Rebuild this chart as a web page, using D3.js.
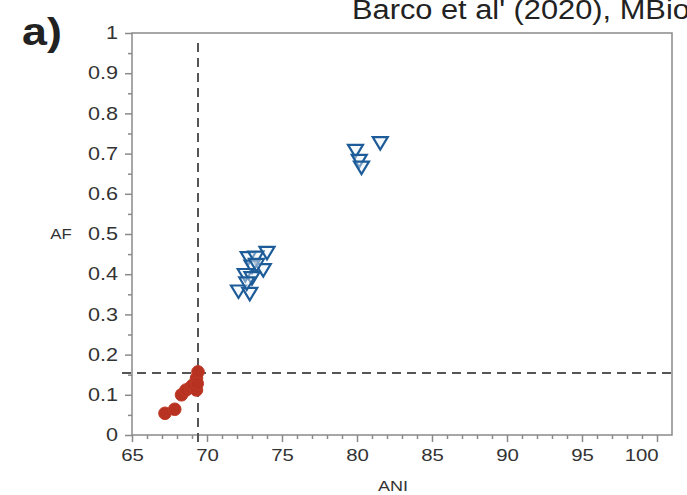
<!DOCTYPE html>
<html>
<head>
<meta charset="utf-8">
<script src="https://cdn.jsdelivr.net/npm/d3@7"></script>
<style>
  html, body { margin: 0; padding: 0; background: #fff; }
  svg { display: block; }
</style>
</head>
<body>
<svg id="chart" width="687" height="495"></svg>
<script>
// ---- data ----
const redANI  = [67.2, 67.85, 68.3, 68.6, 68.9, 69.05, 69.3, 69.3, 69.4, 69.35];
const redAF   = [0.054, 0.064, 0.100, 0.112, 0.118, 0.124, 0.112, 0.141, 0.157, 0.128];
const blueANI = [79.9, 80.15, 80.3, 81.55, 74.0, 72.75, 73.25, 73.75, 73.0, 72.55, 73.0, 72.1, 72.85, 72.65, 73.3];
const blueAF  = [0.707, 0.682, 0.665, 0.726, 0.453, 0.44, 0.441, 0.41, 0.419, 0.398, 0.39, 0.357, 0.351, 0.377, 0.423];
const xTicks = [65, 70, 75, 80, 85, 90, 95, 100];
const yTicks = [0, 0.1, 0.2, 0.3, 0.4, 0.5, 0.6, 0.7, 0.8, 0.9, 1];
const thresholdANI = 69.4;
const thresholdAF = 0.154;
const titleText = "Barco et al' (2020), MBio";
const panelLabel = "a)";

const svg = d3.select("#chart");
const mLeft = 132, mRight = 672, mTop = 33, mBottom = 435;
const x = d3.scaleLinear().domain([65, 101]).range([mLeft, mRight]);
const y = d3.scaleLinear().domain([0, 1]).range([mBottom, mTop]);
const axisColor = "#8a8a8a";
const font = "'Liberation Sans', Arial, Helvetica, sans-serif";

// title (clipped at top/right as in reference)
svg.append("text").attr("x", 0).attr("y", 0)
  .attr("transform", "translate(352,19) scale(1.1,1)")
  .attr("font-family", font).attr("font-size", 28).attr("fill", "#222")
  .text(titleText);
svg.append("text").attr("x", 0).attr("y", 0)
  .attr("transform", "translate(22,45) scale(1.18,1)")
  .attr("font-family", font).attr("font-size", 38).attr("font-weight", "bold").attr("fill", "#222")
  .text(panelLabel);

// plot box
svg.append("rect").attr("x", mLeft).attr("y", mTop)
  .attr("width", mRight - mLeft).attr("height", mBottom - mTop)
  .attr("fill", "none").attr("stroke", axisColor).attr("stroke-width", 1.5);

// minor ticks
const xMinor = d3.range(65, 101, 1).filter(v => v % 5 !== 0);
svg.append("g").attr("transform", `translate(0,${mBottom})`)
  .call(d3.axisBottom(x).tickValues(xMinor).tickSize(4).tickFormat(""))
  .call(g => g.select(".domain").remove())
  .selectAll("line").attr("stroke", axisColor).attr("stroke-width", 1.5);
const yMinor = d3.range(0.05, 1, 0.1);
svg.append("g").attr("transform", `translate(${mLeft},0)`)
  .call(d3.axisLeft(y).tickValues(yMinor).tickSize(4).tickFormat(""))
  .call(g => g.select(".domain").remove())
  .selectAll("line").attr("stroke", axisColor).attr("stroke-width", 1.5);

// major axes
const gx = svg.append("g").attr("transform", `translate(0,${mBottom})`)
  .call(d3.axisBottom(x).tickValues(xTicks).tickSize(7).tickPadding(7).tickFormat(d3.format("d")));
gx.select(".domain").remove();
gx.selectAll("line").attr("stroke", axisColor).attr("stroke-width", 1.5);
gx.selectAll("text").attr("font-family", font).attr("font-size", 17).attr("fill", "#333")
  .attr("transform", "scale(1.2,1)");
// last label sits left of its tick, as in the reference
gx.selectAll(".tick text").filter(d => d === 100).attr("text-anchor", "end").attr("x", 1);

const gy = svg.append("g").attr("transform", `translate(${mLeft},0)`)
  .call(d3.axisLeft(y).tickValues(yTicks).tickSize(7).tickPadding(7)
    .tickFormat(d => (d === 0 || d === 1) ? d3.format("d")(d) : d3.format(".1f")(d)));
gy.select(".domain").remove();
gy.selectAll("line").attr("stroke", axisColor).attr("stroke-width", 1.5);
gy.selectAll("text").attr("font-family", font).attr("font-size", 18).attr("fill", "#333")
  .attr("transform", "scale(1.2,1)").attr("x", -14 / 1.2);

// axis titles
svg.append("text").attr("x", 0).attr("y", 0).attr("text-anchor", "middle")
  .attr("transform", `translate(61,${y(0.5) + 5}) scale(1.2,1)`)
  .attr("font-family", font).attr("font-size", 14).attr("fill", "#333").text("AF");
svg.append("text").attr("x", 0).attr("y", 0).attr("text-anchor", "middle")
  .attr("transform", "translate(393,491) scale(1.2,1)")
  .attr("font-family", font).attr("font-size", 15).attr("fill", "#333").text("ANI");

// threshold lines
svg.append("line").attr("x1", x(thresholdANI)).attr("x2", x(thresholdANI))
  .attr("y1", mTop + 10).attr("y2", mBottom + 10)
  .attr("stroke", "#555").attr("stroke-width", 2).attr("stroke-dasharray", "9,6");
svg.append("line").attr("x1", mLeft - 10).attr("x2", mRight)
  .attr("y1", y(thresholdAF)).attr("y2", y(thresholdAF))
  .attr("stroke", "#555").attr("stroke-width", 2).attr("stroke-dasharray", "9,6");

// blue triangles
const tri = "M-7.5,-6L7.5,-6L0,6.5Z";
svg.append("g").selectAll("path").data(blueANI.map((a, i) => [a, blueAF[i]]))
  .join("path")
  .attr("d", tri)
  .attr("transform", d => `translate(${x(d[0])},${y(d[1])})`)
  .attr("fill", "#eef4fa").attr("fill-opacity", 0.45)
  .attr("stroke", "#1d5c98").attr("stroke-width", 2.2).attr("stroke-linejoin", "miter");

// red circles
svg.append("g").selectAll("circle").data(redANI.map((a, i) => [a, redAF[i]]))
  .join("circle")
  .attr("cx", d => x(d[0])).attr("cy", d => y(d[1])).attr("r", 6.3)
  .attr("fill", "#b83222").attr("stroke", "#c13a28").attr("stroke-width", 1);
</script>
</body>
</html>
